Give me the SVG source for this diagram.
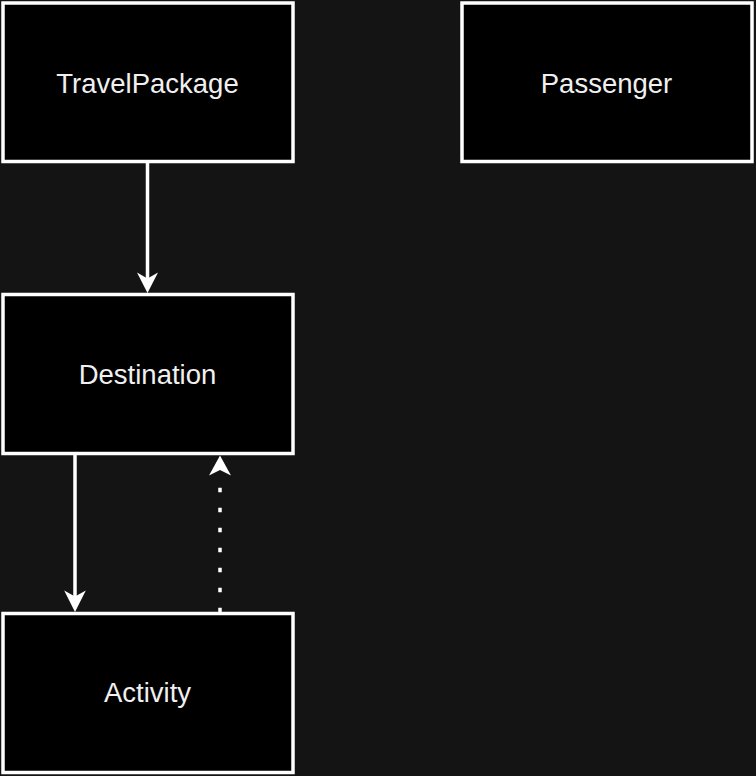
<svg xmlns="http://www.w3.org/2000/svg" width="756" height="776" viewBox="0 0 756 776">
  <style>
    .box { fill: #000000; stroke: #ffffff; stroke-width: 3.5; }
    .label { fill: #f0f0f0; font-family: "Liberation Sans", Arial, sans-serif; font-size: 27.5px; text-anchor: middle; }
    .edge { stroke: #ffffff; stroke-width: 3.5; fill: none; }
    .dotted { stroke-dasharray: 4.5 15.5; }
    .head { fill: #ffffff; stroke: none; }
  </style>
  <rect x="0" y="0" width="756" height="776" fill="#141414"/>
  <g id="connectors">
    <line class="edge" x1="147.5" y1="161.5" x2="147.5" y2="280"/>
    <path class="head" d="M147.5 293 L137 272.5 L147.5 278.5 L158 272.5 Z"/>
    <line class="edge" x1="75" y1="453.5" x2="75" y2="598"/>
    <path class="head" d="M75 612 L64.2 590.5 L75 596.5 L85.8 590.5 Z"/>
    <line class="edge dotted" x1="220" y1="612.25" x2="220" y2="478"/>
    <path class="head" d="M220 455.5 L209 475.5 L220 470 L231 475.5 Z"/>
  </g>
  <g id="node-travelpackage">
    <rect class="box" x="3" y="3" width="290" height="158.5"/>
    <text class="label" x="147.5" y="92.5">TravelPackage</text>
  </g>
  <g id="node-passenger">
    <rect class="box" x="462" y="3" width="290" height="158.5"/>
    <text class="label" x="606.5" y="92.5">Passenger</text>
  </g>
  <g id="node-destination">
    <rect class="box" x="3" y="294.5" width="290" height="159"/>
    <text class="label" x="147.5" y="384">Destination</text>
  </g>
  <g id="node-activity">
    <rect class="box" x="3" y="613.5" width="290" height="159"/>
    <text class="label" x="147.5" y="702">Activity</text>
  </g>
</svg>
